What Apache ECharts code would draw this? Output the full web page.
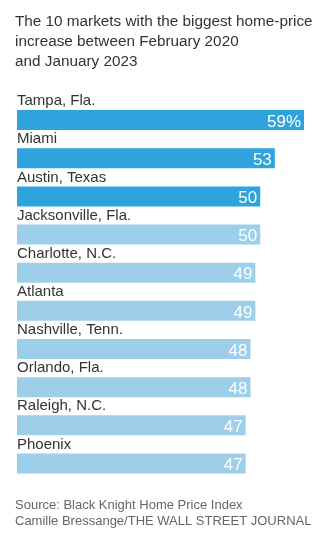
<!DOCTYPE html>
<html>
<head>
<meta charset="utf-8">
<script src="https://cdn.jsdelivr.net/npm/echarts@6/dist/echarts.min.js"></script>
<style>
html,body{margin:0;padding:0;background:#fff;}
#c{width:331px;height:554px;}
</style>
</head>
<body>
<div id="c"></div>
<script>
const titleLines = ["The 10 markets with the biggest home-price", "increase between February 2020", "and January 2023"];
const markets = ["Tampa, Fla.", "Miami", "Austin, Texas", "Jacksonville, Fla.", "Charlotte, N.C.", "Atlanta", "Nashville, Tenn.", "Orlando, Fla.", "Raleigh, N.C.", "Phoenix"];
const increases = [59, 53, 50, 50, 49, 49, 48, 48, 47, 47];
const highlighted = [true, true, true, false, false, false, false, false, false, false];
const sourceLines = ["Source: Black Knight Home Price Index", "Camille Bressange/THE WALL STREET JOURNAL"];

const FONT = "Arial, 'Liberation Sans', sans-serif";
const chart = echarts.init(document.getElementById('c'));
chart.setOption({
  animation: false,
  title: [
    {text: titleLines.join('\n'), left: 10, top: 7,
     textStyle: {fontFamily: FONT, fontSize: 15.3, fontWeight: 'normal', color: '#333', lineHeight: 20}},
    {text: sourceLines.join('\n'), left: 10, top: 492,
     textStyle: {fontFamily: FONT, fontSize: 13, fontWeight: 'normal', color: '#666', lineHeight: 16}}
  ],
  grid: {left: 17, right: 27, top: 101, height: 381.5, containLabel: false},
  xAxis: {type: 'value', min: 0, max: 59, show: false},
  yAxis: {type: 'category', data: markets, inverse: true, show: false},
  series: [
    {
      type: 'bar', barWidth: 20, silent: true,
      data: increases.map((v, i) => ({value: v, itemStyle: {color: highlighted[i] ? '#2ea3dd' : '#9dcfeb'}})),
      label: {
        show: true, position: 'insideRight', distance: 3,
        formatter: p => p.dataIndex === 0 ? p.value + '%' : String(p.value),
        color: '#fff', fontFamily: FONT, fontSize: 17, offset: [0, 2]
      }
    },
    {
      type: 'bar', barWidth: 20, barGap: '-100%', silent: true,
      data: increases,
      itemStyle: {color: 'rgba(0,0,0,0)'},
      label: {
        show: true, position: [0, -9], verticalAlign: 'middle', align: 'left',
        formatter: p => markets[p.dataIndex],
        color: '#333', fontFamily: FONT, fontSize: 15
      }
    }
  ]
});
</script>
</body>
</html>
